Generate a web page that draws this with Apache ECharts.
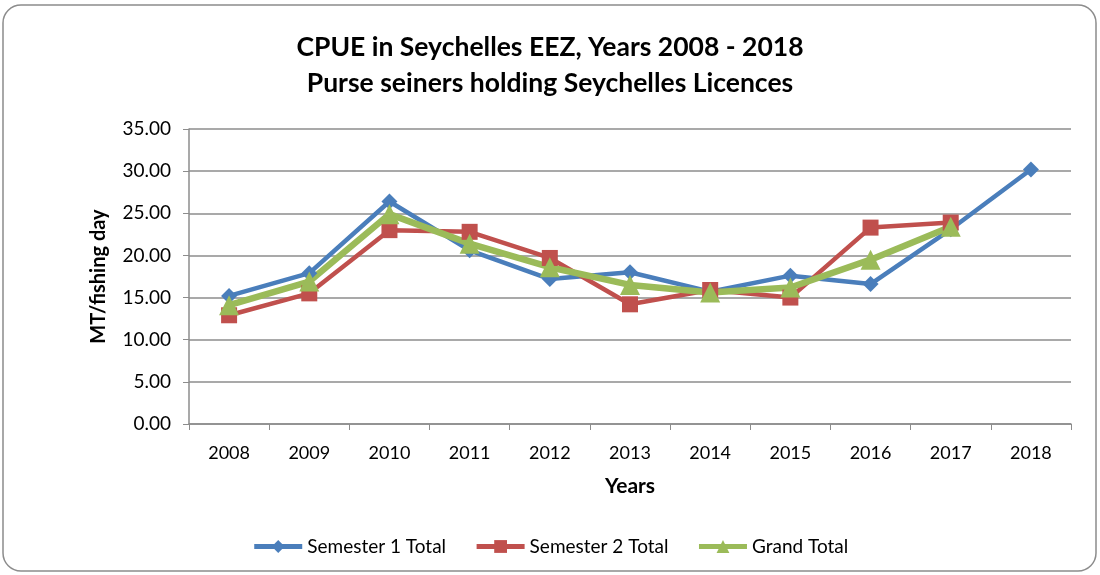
<!DOCTYPE html>
<html>
<head>
<meta charset="utf-8">
<script src="https://cdn.jsdelivr.net/npm/echarts@6/dist/echarts.min.js"></script>
<style>
  html, body { margin: 0; padding: 0; background: #fff; }
  #chart { width: 1100px; height: 575px; }
</style>
</head>
<body>
<div id="chart"></div>
<script>
// 年份
const years = ['2008', '2009', '2010', '2011', '2012', '2013', '2014', '2015', '2016', '2017', '2018']
// 各系列数值
const semester1 = [15.2, 17.9, 26.4, 20.6, 17.2, 18.0, 15.7, 17.6, 16.6, 23.1, 30.2]
const semester2 = [12.9, 15.5, 23.0, 22.8, 19.7, 14.2, 15.9, 15.0, 23.3, 23.9, null]
const grandTotal = [14.1, 16.9, 24.9, 21.4, 18.6, 16.5, 15.6, 16.2, 19.5, 23.4, null]

const font = 'Lato, "Open Sans", sans-serif'
const chart = echarts.init(document.getElementById('chart'))

const option = {
  animation: false,
  textStyle: { fontFamily: font },
  graphic: [
    {
      type: 'rect',
      shape: { x: 3, y: 5, width: 1093, height: 566, r: 18 },
      style: { fill: 'none', stroke: '#8c8c8c', lineWidth: 1.5 },
      z: -1
    }
  ],
  title: {
    text: 'CPUE in Seychelles EEZ, Years 2008 - 2018\nPurse seiners holding Seychelles Licences',
    left: 'center',
    top: 24,
    textStyle: { fontSize: 26.5, fontWeight: 'bold', color: '#000', lineHeight: 36, fontFamily: font }
  },
  grid: { left: 189, right: 29, top: 129, bottom: 151 },
  legend: {
    bottom: 14,
    left: 'center',
    itemWidth: 48,
    itemHeight: 16,
    itemGap: 28,
    lineStyle: { width: 5 },
    textStyle: { fontSize: 19, color: '#000', fontFamily: font },
    data: ['Semester 1 Total', 'Semester 2 Total', 'Grand Total']
  },
  xAxis: {
    type: 'category',
    data: years,
    name: 'Years',
    nameLocation: 'middle',
    nameGap: 52,
    nameTextStyle: { fontSize: 21, fontWeight: 'bold', color: '#000' },
    axisLine: { lineStyle: { color: '#8c8c8c', width: 1.5 } },
    axisTick: { show: true, length: 6, lineStyle: { color: '#8c8c8c' } },
    axisLabel: { fontSize: 18, color: '#000', margin: 20 }
  },
  yAxis: {
    type: 'value',
    min: 0,
    max: 35,
    interval: 5,
    name: 'MT/fishing day',
    nameLocation: 'middle',
    nameGap: 80,
    nameTextStyle: { fontSize: 20, fontWeight: 'bold', color: '#000' },
    axisLine: { show: true, lineStyle: { color: '#8c8c8c', width: 1.5 } },
    axisTick: { show: true, length: 6, lineStyle: { color: '#8c8c8c' } },
    axisLabel: { fontSize: 19, color: '#000', margin: 18, formatter: (v) => v.toFixed(2) },
    splitLine: { lineStyle: { color: '#8c8c8c', width: 1.5 } }
  },
  series: [
    {
      name: 'Semester 1 Total',
      type: 'line',
      data: semester1,
      symbol: 'diamond',
      symbolSize: 16,
      itemStyle: { color: '#4a7ebb' },
      lineStyle: { width: 4.5, color: '#4a7ebb' }
    },
    {
      name: 'Semester 2 Total',
      type: 'line',
      data: semester2,
      symbol: 'rect',
      symbolSize: 16,
      itemStyle: { color: '#c0504d' },
      lineStyle: { width: 4.5, color: '#c0504d' }
    },
    {
      name: 'Grand Total',
      type: 'line',
      data: grandTotal,
      symbol: 'triangle',
      symbolSize: 20,
      itemStyle: { color: '#9bbb59' },
      lineStyle: { width: 6.5, color: '#9bbb59' }
    }
  ]
}
chart.setOption(option)
</script>
</body>
</html>
